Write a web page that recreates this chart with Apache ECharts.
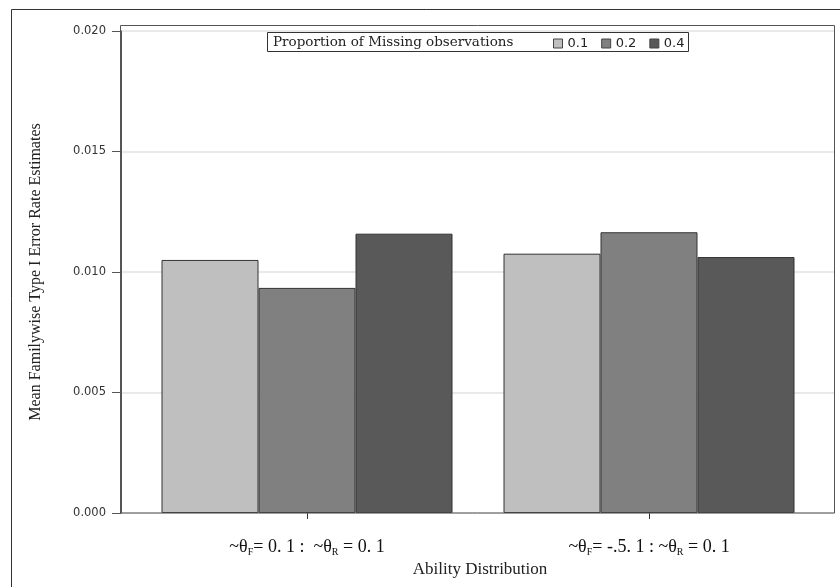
<!DOCTYPE html>
<html>
<head>
<meta charset="utf-8">
<script src="https://cdn.jsdelivr.net/npm/echarts@6/dist/echarts.min.js"></script>
<style>
html,body{margin:0;padding:0;background:#fff;}
#chart{width:840px;height:587px;}
</style>
</head>
<body>
<div id="chart"></div>
<script>
const categories = ['g1', 'g2'];
const seriesNames = ['0.1', '0.2', '0.4'];
const values01 = [0.01050, 0.01076];
const values02 = [0.00934, 0.01165];
const values04 = [0.01159, 0.01062];
const yTicks = [0, 0.005, 0.01, 0.015, 0.02];
const yAxisTitle = 'Mean Familywise Type I Error Rate Estimates';
const xAxisTitle = 'Ability Distribution';
const legendTitle = 'Proportion of Missing observations';

const colors = ['#bfbfbf', '#808080', '#595959'];
const seriesValues = [values01, values02, values04];

const chart = echarts.init(document.getElementById('chart'), null, {renderer: 'canvas'});

const serif = 'Liberation Serif';
const sans = 'DejaVu Sans';

const labelRich = {
  t: {fontFamily: serif, fontSize: 18, color: '#111'},
  s: {fontFamily: serif, fontSize: 10, color: '#111', padding: [10, 0, 0, 0]}
};
function xLabel(v) {
  if (v === 'g1') return '{t|~θ}{s|F}{t|= 0. 1 :  ~θ}{s|R}{t| = 0. 1}';
  return '{t|~θ}{s|F}{t|= -.5. 1 : ~θ}{s|R}{t| = 0. 1}';
}

const option = {
  animation: false,
  backgroundColor: '#fff',
  grid: [
    {left: 121, right: 5, top: 31, bottom: 74, containLabel: false},
    {left: 136, right: 20, top: 31, bottom: 74, containLabel: false}
  ],
  legend: {
    data: seriesNames,
    left: 548,
    top: 32,
    itemWidth: 9,
    itemHeight: 9,
    itemGap: 13,
    icon: 'rect',
    itemStyle: {borderColor: '#444', borderWidth: 1},
    textStyle: {fontFamily: sans, fontSize: 13, color: '#222'}
  },
  xAxis: [
    {gridIndex: 0, type: 'value', min: 0, max: 1, show: false},
    {
      gridIndex: 1, type: 'category', data: categories, boundaryGap: true,
      axisLine: {show: false},
      axisTick: {show: true, alignWithLabel: true, length: 6, lineStyle: {color: '#333'}},
      axisLabel: {margin: 24, formatter: xLabel, rich: labelRich}
    }
  ],
  yAxis: [
    {
      gridIndex: 0, type: 'value', min: 0, max: 0.02, interval: 0.005,
      axisLine: {show: true, lineStyle: {color: '#555'}},
      axisTick: {show: true, length: 9, lineStyle: {color: '#555'}},
      axisLabel: {margin: 15, fontFamily: sans, fontSize: 11.5, color: '#333',
        formatter: v => v.toFixed(3)},
      splitLine: {show: true, lineStyle: {color: '#e2e2e2', width: 1.5}}
    },
    {gridIndex: 1, type: 'value', min: 0, max: 0.02, show: false, splitLine: {show: false}}
  ],
  series: seriesNames.map((n, i) => ({
    name: n,
    type: 'bar',
    xAxisIndex: 1,
    yAxisIndex: 1,
    data: seriesValues[i],
    barWidth: 97,
    barGap: '0%',
    itemStyle: {color: colors[i], borderColor: '#333', borderWidth: 1}
  })),
  graphic: [
    {type: 'rect', silent: true, z: 0,
      shape: {x: 11.5, y: 9.5, width: 840, height: 590},
      style: {fill: null, stroke: '#333', lineWidth: 1}},
    {type: 'rect', silent: true, z: 100,
      shape: {x: 120.5, y: 25.5, width: 714, height: 487.5},
      style: {fill: null, stroke: '#555', lineWidth: 1}},
    {type: 'rect', silent: true, z: 100,
      shape: {x: 267.5, y: 32.5, width: 421, height: 19},
      style: {fill: null, stroke: '#333', lineWidth: 1}},
    {type: 'text', silent: true, z: 100,
      style: {x: 273, y: 42, text: legendTitle, fontFamily: 'DejaVu Serif', fontSize: 13.5,
        fill: '#222', verticalAlign: 'middle', align: 'left'}},
    {type: 'text', silent: true, z: 100,
      style: {x: 480, y: 570, text: xAxisTitle, fontFamily: serif, fontSize: 17,
        fill: '#222', verticalAlign: 'middle', align: 'center'}},
    {type: 'text', silent: true, z: 100, x: 36, y: 272, rotation: Math.PI / 2,
      style: {x: 0, y: 0, text: yAxisTitle, fontFamily: serif, fontSize: 16,
        fill: '#222', verticalAlign: 'middle', align: 'center'}}
  ]
};
chart.setOption(option);
</script>
</body>
</html>
